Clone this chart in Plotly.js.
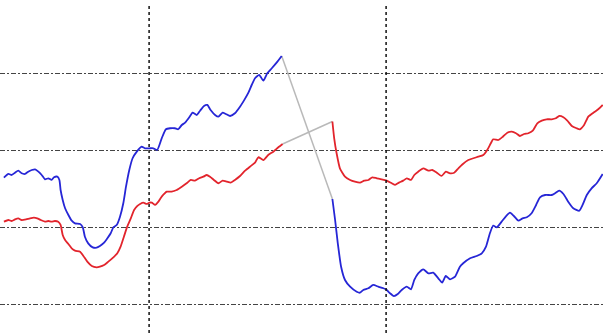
<!DOCTYPE html>
<html>
<head>
<meta charset="utf-8">
<script src="https://cdn.plot.ly/plotly-3.0.1.min.js"></script>
<style>
  html, body { margin: 0; padding: 0; background: #fff; }
  #chart { width: 603px; height: 333px; }
</style>
</head>
<body>
<div id="chart"></div>
<script>
// Blue series, before and after the break
const blueX1 = [1.3,2.8,3.9,5.0,6.1,7.2,8.3,9.4,10.6,11.7,12.8,13.9,15.0,16.1,17.2,18.0,19.1,19.8,20.2,20.9,21.7,22.8,23.9,25.0,26.7,27.6,28.3,29.4,30.9,32.2,33.3,34.7,35.8,36.9,37.8,38.9,40.0,41.1,42.0,43.1,44.2,45.6,47.2,48.3,49.8,51.1,52.4,53.9,55.3,56.7,58.3,59.4,60.6,61.7,63.1,64.2,65.6,66.7,68.0,69.1,70.2,71.7,72.8,74.2,75.3,76.7,78.3,80.0,81.3,82.8,83.9,85.0,86.4,87.8,89.1,90.6,92.2,93.9];
const blueY1 = [16.47,16.95,16.82,17.12,17.38,17.04,16.95,17.25,17.47,17.56,17.25,16.82,16.26,16.39,16.17,16.52,16.60,16.17,14.86,13.56,12.48,11.60,10.86,10.52,10.43,10.00,8.77,7.91,7.39,7.34,7.56,7.99,8.57,9.22,10.00,10.30,11.38,13.13,15.29,17.47,19.00,19.86,20.51,20.30,20.30,20.30,20.08,21.60,22.78,22.91,22.91,22.78,23.34,23.64,24.34,24.94,24.64,25.20,25.82,25.95,25.29,24.64,24.42,24.94,24.77,24.51,24.86,25.72,26.51,27.55,28.55,29.43,29.86,29.11,30.08,30.73,31.46,32.33];
const blueX2 = [110.8,111.7,112.6,113.7,115.0,116.7,118.9,120.0,121.1,122.8,124.4,126.1,127.8,128.9,130.0,131.3,132.6,133.9,135.6,137.0,138.1,139.4,141.1,142.8,144.4,146.1,147.4,148.6,150.0,151.7,153.3,154.4,156.7,158.9,160.6,162.0,163.3,164.4,165.6,167.2,168.7,170.0,171.3,172.8,174.2,175.6,177.2,178.7,180.0,181.7,183.9,185.0,186.4,187.8,189.4,191.1,193.1,194.2,195.6,197.2,198.9,200.9];
const blueY2 = [13.69,10.95,7.91,4.86,3.13,2.26,1.60,1.47,1.83,2.05,2.48,2.26,2.05,1.83,1.40,1.04,1.30,1.83,2.26,1.92,3.13,4.00,4.52,4.00,4.08,3.35,2.78,3.65,3.22,3.56,4.86,5.31,5.96,6.26,6.61,7.47,9.22,10.23,10.00,10.73,11.47,11.90,11.47,10.86,11.17,11.30,11.83,12.91,13.91,14.21,14.21,14.43,14.77,14.34,13.34,12.48,12.16,12.91,14.21,15.08,15.74,16.95];

// Red series, before and after the break
const redX1 = [1.3,2.8,3.9,5.0,6.1,7.2,8.7,10.0,11.3,12.4,13.6,15.0,16.1,17.2,18.3,19.4,20.2,20.9,21.7,22.8,23.9,25.0,26.7,27.8,29.1,30.6,32.2,33.3,34.7,36.1,37.8,39.1,40.2,41.3,42.4,43.6,44.7,45.8,46.7,47.8,48.9,49.8,50.6,51.7,52.8,53.9,55.6,57.2,58.9,60.6,62.2,63.6,65.0,66.4,67.8,68.9,70.0,71.3,72.8,74.2,75.6,76.9,78.3,80.0,81.7,83.3,85.0,86.1,87.8,89.4,91.1,92.8,94.2];
const redY1 = [10.73,10.95,10.82,11.04,11.17,10.95,11.04,11.17,11.25,11.17,10.95,10.73,10.82,10.73,10.82,10.73,10.30,9.00,8.34,7.82,7.26,6.95,6.82,6.26,5.52,4.95,4.78,4.86,5.08,5.52,6.09,6.61,7.47,8.77,10.08,11.17,12.26,12.78,13.04,13.21,13.04,13.21,13.21,12.91,13.34,13.99,14.64,14.64,14.86,15.29,15.74,16.17,16.08,16.39,16.60,16.82,16.60,16.17,15.74,16.08,15.95,15.82,16.17,16.69,17.38,17.90,18.42,19.13,18.77,19.43,19.86,20.43,20.86];
const redX2 = [110.8,111.4,112.2,113.3,115.0,116.7,118.3,120.0,121.4,122.8,124.1,125.6,127.2,128.9,130.6,131.7,133.0,134.4,135.6,137.0,138.1,139.4,141.1,142.8,144.1,145.6,147.2,148.6,150.0,151.4,152.8,154.1,156.1,157.8,159.4,161.1,162.4,163.6,164.4,166.1,167.6,169.1,170.6,172.0,173.3,174.7,176.1,177.6,179.1,180.6,182.2,183.9,185.3,186.4,187.8,189.1,190.6,192.2,193.3,194.7,196.1,197.8,199.4,200.9];
const redY2 = [23.79,21.60,19.65,17.69,16.60,16.17,15.95,15.82,16.08,16.17,16.52,16.39,16.26,16.08,15.74,15.52,15.82,16.08,16.39,16.17,16.82,17.25,17.69,17.38,17.47,17.12,16.69,17.25,17.04,17.12,17.69,18.19,18.77,19.00,19.20,19.43,20.08,20.95,21.47,21.38,21.81,22.33,22.46,22.26,21.90,22.16,22.26,22.60,23.56,23.90,24.08,24.08,24.21,24.51,24.34,23.90,23.21,22.91,22.78,23.34,24.42,24.94,25.38,25.95];

// Vertical markers
const markerX = [49.7, 128.7];

const BLUE = 'rgb(38,38,214)';
const RED = 'rgb(226,36,44)';
const GREY = 'rgb(185,185,185)';

function seg(x, y, color, w) {
  return { x: x, y: y, type: 'scatter', mode: 'lines',
           line: { color: color, width: w, shape: 'spline', smoothing: 0.5 },
           hoverinfo: 'skip', showlegend: false };
}

// Grey bridges join the last point before the break to the first point after it
const bridgeBlue = seg([blueX1[blueX1.length-1], blueX2[0]], [blueY1[blueY1.length-1], blueY2[0]], GREY, 1.5);
const bridgeRed = seg([redX1[redX1.length-1], redX2[0]], [redY1[redY1.length-1], redY2[0]], GREY, 1.5);

const data = [
  bridgeBlue, bridgeRed,
  seg(blueX1, blueY1, BLUE, 1.8), seg(blueX2, blueY2, BLUE, 1.8),
  seg(redX1, redY1, RED, 1.8), seg(redX2, redY2, RED, 1.8)
];

const shapes = markerX.map(v => ({
  type: 'line', xref: 'x', yref: 'paper', x0: v, x1: v, y0: 0, y1: 0.985,
  line: { color: '#111', width: 1.5, dash: 'dot' }, layer: 'above'
}));

const layout = {
  width: 603, height: 333,
  margin: { l: 0, r: 0, t: 0, b: 0, pad: 0 },
  paper_bgcolor: '#fff', plot_bgcolor: '#fff',
  showlegend: false,
  xaxis: { range: [0, 201], showgrid: false, zeroline: false, showticklabels: false, ticks: '', showline: false },
  yaxis: { range: [-3.78, 39.63], tick0: 0, dtick: 10, showgrid: true, gridcolor: '#444', gridwidth: 1,
           griddash: '5px,2px,2px,2px', zeroline: false, showticklabels: false, ticks: '', showline: false },
  shapes: shapes
};

Plotly.newPlot('chart', data, layout, { displayModeBar: false, staticPlot: true });
</script>
</body>
</html>
